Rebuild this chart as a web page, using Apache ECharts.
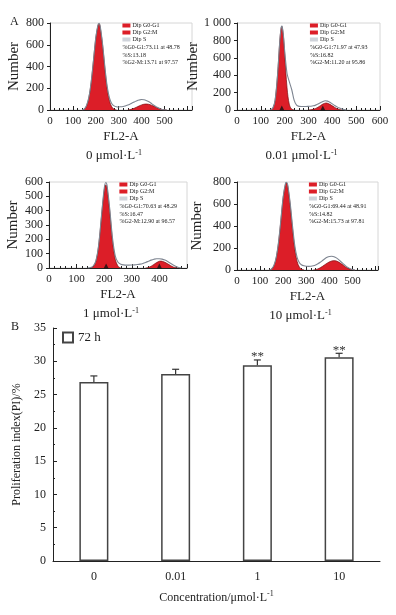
<!DOCTYPE html>
<html>
<head>
<meta charset="utf-8">
<script src="https://cdn.jsdelivr.net/npm/echarts@6/dist/echarts.min.js"></script>
<style>
html,body{margin:0;padding:0;background:#fff;}
#main{width:396px;height:615px;}
</style>
</head>
<body>
<div id="main"></div>
<script>
// histogram data: [channel, count]
var p1G1 = [[140,0],[150,8],[160,40],[170,115],[180,255],[190,455],[200,660],[210,780],[215,790],[220,750],[230,585],[240,370],[250,190],[260,80],[270,28],[280,6],[290,0]];
var p1G2 = [[340,0],[350,4],[360,10],[370,18],[380,28],[390,38],[400,47],[410,53],[420,55],[430,53],[440,47],[450,38],[460,28],[470,18],[480,10],[490,5],[500,2],[510,0]];
var p1Total = [[140,0],[150,10],[160,45],[170,120],[180,262],[190,462],[200,668],[210,788],[215,798],[220,760],[230,598],[240,388],[250,212],[260,108],[270,58],[280,38],[290,30],[300,28],[310,30],[320,32],[330,38],[340,45],[350,55],[360,66],[370,76],[380,86],[390,92],[400,96],[410,94],[420,88],[430,78],[440,64],[450,48],[460,34],[470,22],[480,12],[490,5],[500,2],[510,0]];

var p2G1 = [[140,2],[150,18],[160,111],[170,394],[180,805],[185,936],[188,960],[190,950],[195,839],[200,646],[210,254],[220,58],[230,8],[240,0]];
var p2G2 = [[300,0],[310,2],[320,8],[330,18],[340,32],[350,50],[360,68],[370,79],[375,80],[380,77],[390,65],[400,48],[410,30],[420,15],[430,5],[440,0]];
var p2Total = [[140,3],[150,20],[160,115],[170,400],[180,812],[185,942],[188,965],[190,955],[195,850],[200,680],[210,420],[220,320],[230,230],[240,110],[250,55],[260,42],[270,40],[280,40],[290,40],[300,42],[310,44],[320,48],[330,56],[340,68],[350,84],[360,98],[370,106],[380,102],[390,88],[400,70],[410,52],[420,36],[430,22],[440,11],[450,4],[460,0]];
var p2Peaks = [188, 360];

var p3G1 = [[150,1],[160,9],[170,46],[180,155],[190,352],[200,540],[206,580],[210,562],[220,395],[230,189],[240,61],[250,13],[260,0]];
var p3G2 = [[350,0],[360,4],[370,12],[380,25],[390,38],[400,47],[405,48],[410,47],[420,40],[430,29],[440,17],[450,7],[460,2],[470,0]];
var p3Total = [[140,0],[150,3],[160,14],[170,52],[180,162],[190,362],[200,555],[206,596],[210,580],[220,415],[230,210],[240,85],[250,40],[260,27],[270,22],[280,20],[290,20],[300,21],[310,22],[320,24],[330,27],[340,32],[350,39],[360,47],[370,55],[380,61],[390,65],[400,65],[410,62],[420,55],[430,45],[440,33],[450,21],[460,11],[470,4],[480,0]];
var p3Peaks = [207, 400];

var p4G1 = [[140,0],[150,9],[160,38],[170,113],[180,250],[190,450],[200,660],[210,782],[214,790],[220,755],[230,590],[240,375],[250,190],[260,78],[270,26],[280,6],[290,0]];
var p4G2 = [[330,0],[340,3],[350,10],[360,20],[370,33],[380,48],[390,62],[400,74],[410,82],[420,85],[430,82],[440,72],[450,58],[460,43],[470,28],[480,16],[490,7],[500,2],[510,0]];
var p4Total = [[140,0],[150,11],[160,44],[170,120],[180,260],[190,460],[200,670],[210,790],[214,798],[220,768],[230,610],[240,405],[250,222],[260,115],[270,66],[280,46],[290,38],[300,34],[310,33],[320,34],[330,38],[340,45],[350,56],[360,70],[370,86],[380,102],[390,115],[400,123],[410,125],[420,121],[430,110],[440,94],[450,75],[460,55],[470,37],[480,22],[490,11],[500,4],[510,0]];

var legendNames = ['Dip G0-G1', 'Dip G2:M', 'Dip S'];
var p1Stats = ['%G0-G1:73.11 at 48.78', '%S:13.18', '%G2-M:13.71 at 97.57'];
var p2Stats = ['%G0-G1:71.97 at 47.93', '%S:16.82', '%G2-M:11.20 at 95.86'];
var p3Stats = ['%G0-G1:70.63 at 48.29', '%S:16.47', '%G2-M:12.90 at 96.57'];
var p4Stats = ['%G0-G1:69.44 at 48.91', '%S:14.82', '%G2-M:15.73 at 97.81'];
var doses = ['0', '0.01', '1', '10'];

// panel B
var concentrations = ['0', '0.01', '1', '10'];
var piValues = [26.9, 28.1, 29.4, 30.6];
var piErrors = [0.9, 0.7, 0.8, 0.6];
var piSig = ['', '', '**', '**'];

var FONT = '"Liberation Serif", "DejaVu Serif", serif';
var INK = '#222';
var RED = '#dc1e28';

var panels = [
    { g1:p1G1, g2:p1G2, total:p1Total, peaks:[], stats:p1Stats, dose:doses[0],
      left:50, top:23, width:142, height:87, xMax:620, labelMax:500, yMax:800, yInt:200, nameGap:28 },
    { g1:p2G1, g2:p2G2, total:p2Total, peaks:p2Peaks, stats:p2Stats, dose:doses[1],
      left:237, top:23, width:143, height:87, xMax:600, labelMax:600, yMax:1000, yInt:200, nameGap:32 },
    { g1:p3G1, g2:p3G2, total:p3Total, peaks:p3Peaks, stats:p3Stats, dose:doses[2],
      left:49, top:182, width:138, height:86, xMax:500, labelMax:400, yMax:600, yInt:100, nameGap:28 },
    { g1:p4G1, g2:p4G2, total:p4Total, peaks:[], stats:p4Stats, dose:doses[3],
      left:237, top:182, width:141, height:88, xMax:610, labelMax:500, yMax:800, yInt:200, nameGap:32 }
];

var supRich = { sup: { fontSize: 8, fontFamily: FONT, verticalAlign: 'top', lineHeight: 15, color: INK } };

var grids = [], xAxes = [], yAxes = [], series = [], legends = [], graphics = [];

panels.forEach(function(p, i){
    grids.push({ left:p.left, top:p.top, width:p.width, height:p.height, show:true, borderColor:'#d6d6d6', borderWidth:1 });
    xAxes.push({
        type:'value', gridIndex:i, min:0, max:p.xMax, interval:100,
        axisLine:{ lineStyle:{ color:INK, width:1 } },
        axisTick:{ inside:true, length:4, lineStyle:{ color:INK } },
        minorTick:{ show:true, splitNumber:5, length:2, lineStyle:{ color:INK } },
        splitLine:{ show:false },
        axisLabel:{ fontFamily:FONT, fontSize:11, color:INK, margin:6,
            formatter:function(v){ return (v % 100 === 0 && v <= p.labelMax) ? String(v) : ''; } },
        name:'FL2-A', nameLocation:'middle', nameGap:20,
        nameTextStyle:{ fontFamily:FONT, fontSize:13, color:INK }
    });
    yAxes.push({
        type:'value', gridIndex:i, min:0, max:p.yMax, interval:p.yInt,
        axisLine:{ show:true, lineStyle:{ color:INK, width:1 } },
        axisTick:{ show:true, inside:false, length:3, lineStyle:{ color:INK } },
        splitLine:{ show:false },
        axisLabel:{ fontFamily:FONT, fontSize:12, color:INK, margin:6,
            formatter:function(v){ return v >= 1000 ? '1 000' : String(v); } },
        name:'Number', nameLocation:'middle', nameGap:p.nameGap,
        nameTextStyle:{ fontFamily:FONT, fontSize:15, color:INK }
    });
    series.push({
        name:legendNames[0], type:'line', xAxisIndex:i, yAxisIndex:i, data:p.g1,
        smooth:0.35, symbol:'none', color:RED,
        lineStyle:{ color:'#7a0c10', width:0.7 }, areaStyle:{ color:RED, opacity:1 }, z:2
    });
    series.push({
        name:legendNames[1], type:'line', xAxisIndex:i, yAxisIndex:i, data:p.g2,
        smooth:0.35, symbol:'none', color:RED,
        lineStyle:{ color:'#7a0c10', width:0.7 }, areaStyle:{ color:RED, opacity:1 }, z:2
    });
    series.push({
        name:legendNames[2], type:'line', xAxisIndex:i, yAxisIndex:i, data:p.total,
        smooth:0.3, symbol:'none', color:'#cfd3da',
        lineStyle:{ color:'#7e8591', width:1.1 }, z:3
    });
    if (p.peaks.length) {
        series.push({
            type:'scatter', xAxisIndex:i, yAxisIndex:i,
            data:p.peaks.map(function(x){ return [x, 0]; }),
            symbol:'triangle', symbolSize:[5,5], symbolOffset:[0,-2],
            itemStyle:{ color:'#111' }, z:4, silent:true
        });
    }
    var lx = p.left + p.width * 0.51;
    legends.push({
        data:legendNames, orient:'vertical', left:lx, top:p.top - 1, padding:0,
        icon:'rect', itemWidth:8, itemHeight:4, itemGap:0, selectedMode:false,
        textStyle:{ fontFamily:FONT, fontSize:6, color:INK, lineHeight:7, padding:[0,0,0,-3] }
    });
    graphics.push({
        type:'text', x:lx, y:p.top + 21,
        style:{ text:p.stats.join('\n'), font:'6px ' + FONT, fill:INK, lineHeight:7.5 }
    });
    graphics.push({
        type:'text', x:p.left + p.width/2 - 7, y:p.top + p.height + 46,
        style:{ text:p.dose + ' μmol·L{sup|-1}', font:'13px ' + FONT, fill:INK,
            align:'center', verticalAlign:'middle', rich:supRich }
    });
});

graphics.push({ type:'text', x:10, y:16, style:{ text:'A', font:'12px ' + FONT, fill:INK } });
graphics.push({ type:'text', x:11, y:321, style:{ text:'B', font:'12px ' + FONT, fill:INK } });

// panel B: bar chart
grids.push({ left:53, top:328, right:16, bottom:54 });
xAxes.push({
    type:'category', gridIndex:4, data:concentrations,
    axisLine:{ lineStyle:{ color:INK, width:1 } },
    axisTick:{ inside:true, length:4, alignWithLabel:false, lineStyle:{ color:INK } },
    axisLabel:{ fontFamily:FONT, fontSize:12, color:INK, margin:10 },
    name:'Concentration/μmol·L{sup|-1}', nameLocation:'middle', nameGap:29,
    nameTextStyle:{ fontFamily:FONT, fontSize:12, color:INK, rich:supRich }
});
yAxes.push({
    type:'value', gridIndex:4, min:0, max:35, interval:5,
    axisLine:{ show:true, lineStyle:{ color:INK, width:1 } },
    axisTick:{ show:true, inside:true, length:4, lineStyle:{ color:INK } },
    minorTick:{ show:true, splitNumber:2, length:2, lineStyle:{ color:INK } },
    splitLine:{ show:false },
    axisLabel:{ fontFamily:FONT, fontSize:12, color:INK, margin:7 },
    name:'Proliferation index(PI)/%', nameLocation:'middle', nameGap:25,
    nameTextStyle:{ fontFamily:FONT, fontSize:12, color:INK }
});
series.push({
    name:'72 h', type:'bar', xAxisIndex:4, yAxisIndex:4, data:piValues, barWidth:29,
    itemStyle:{ color:'#fff', borderColor:'#444', borderWidth:1.5 }
});
series.push({
    type:'custom', xAxisIndex:4, yAxisIndex:4, silent:true, z:5,
    data:piValues.map(function(v, i){ return [i, v, piErrors[i]]; }),
    renderItem:function(params, api){
        var i = api.value(0), v = api.value(1), e = api.value(2);
        var base = api.coord([i, v]);
        var top = api.coord([i, v + e]);
        var cap = 3.5;
        var kids = [
            { type:'line', shape:{ x1:base[0], y1:base[1], x2:top[0], y2:top[1] }, style:{ stroke:'#333', lineWidth:1.2 } },
            { type:'line', shape:{ x1:top[0]-cap, y1:top[1], x2:top[0]+cap, y2:top[1] }, style:{ stroke:'#333', lineWidth:1.2 } }
        ];
        var s = piSig[params.dataIndex];
        if (s) {
            kids.push({ type:'text', x:top[0], y:top[1] - 3,
                style:{ text:s, font:'13px ' + FONT, fill:'#333', align:'center', verticalAlign:'middle' } });
        }
        return { type:'group', children:kids };
    }
});
legends.push({
    data:['72 h'], left:62, top:331, padding:0, icon:'rect', itemWidth:10, itemHeight:10,
    selectedMode:false, textStyle:{ fontFamily:FONT, fontSize:13, color:INK }
});

var myChart = echarts.init(document.getElementById('main'));
myChart.setOption({
    animation:false,
    backgroundColor:'#fff',
    grid:grids,
    xAxis:xAxes,
    yAxis:yAxes,
    legend:legends,
    series:series,
    graphic:graphics
});
</script>
</body>
</html>
